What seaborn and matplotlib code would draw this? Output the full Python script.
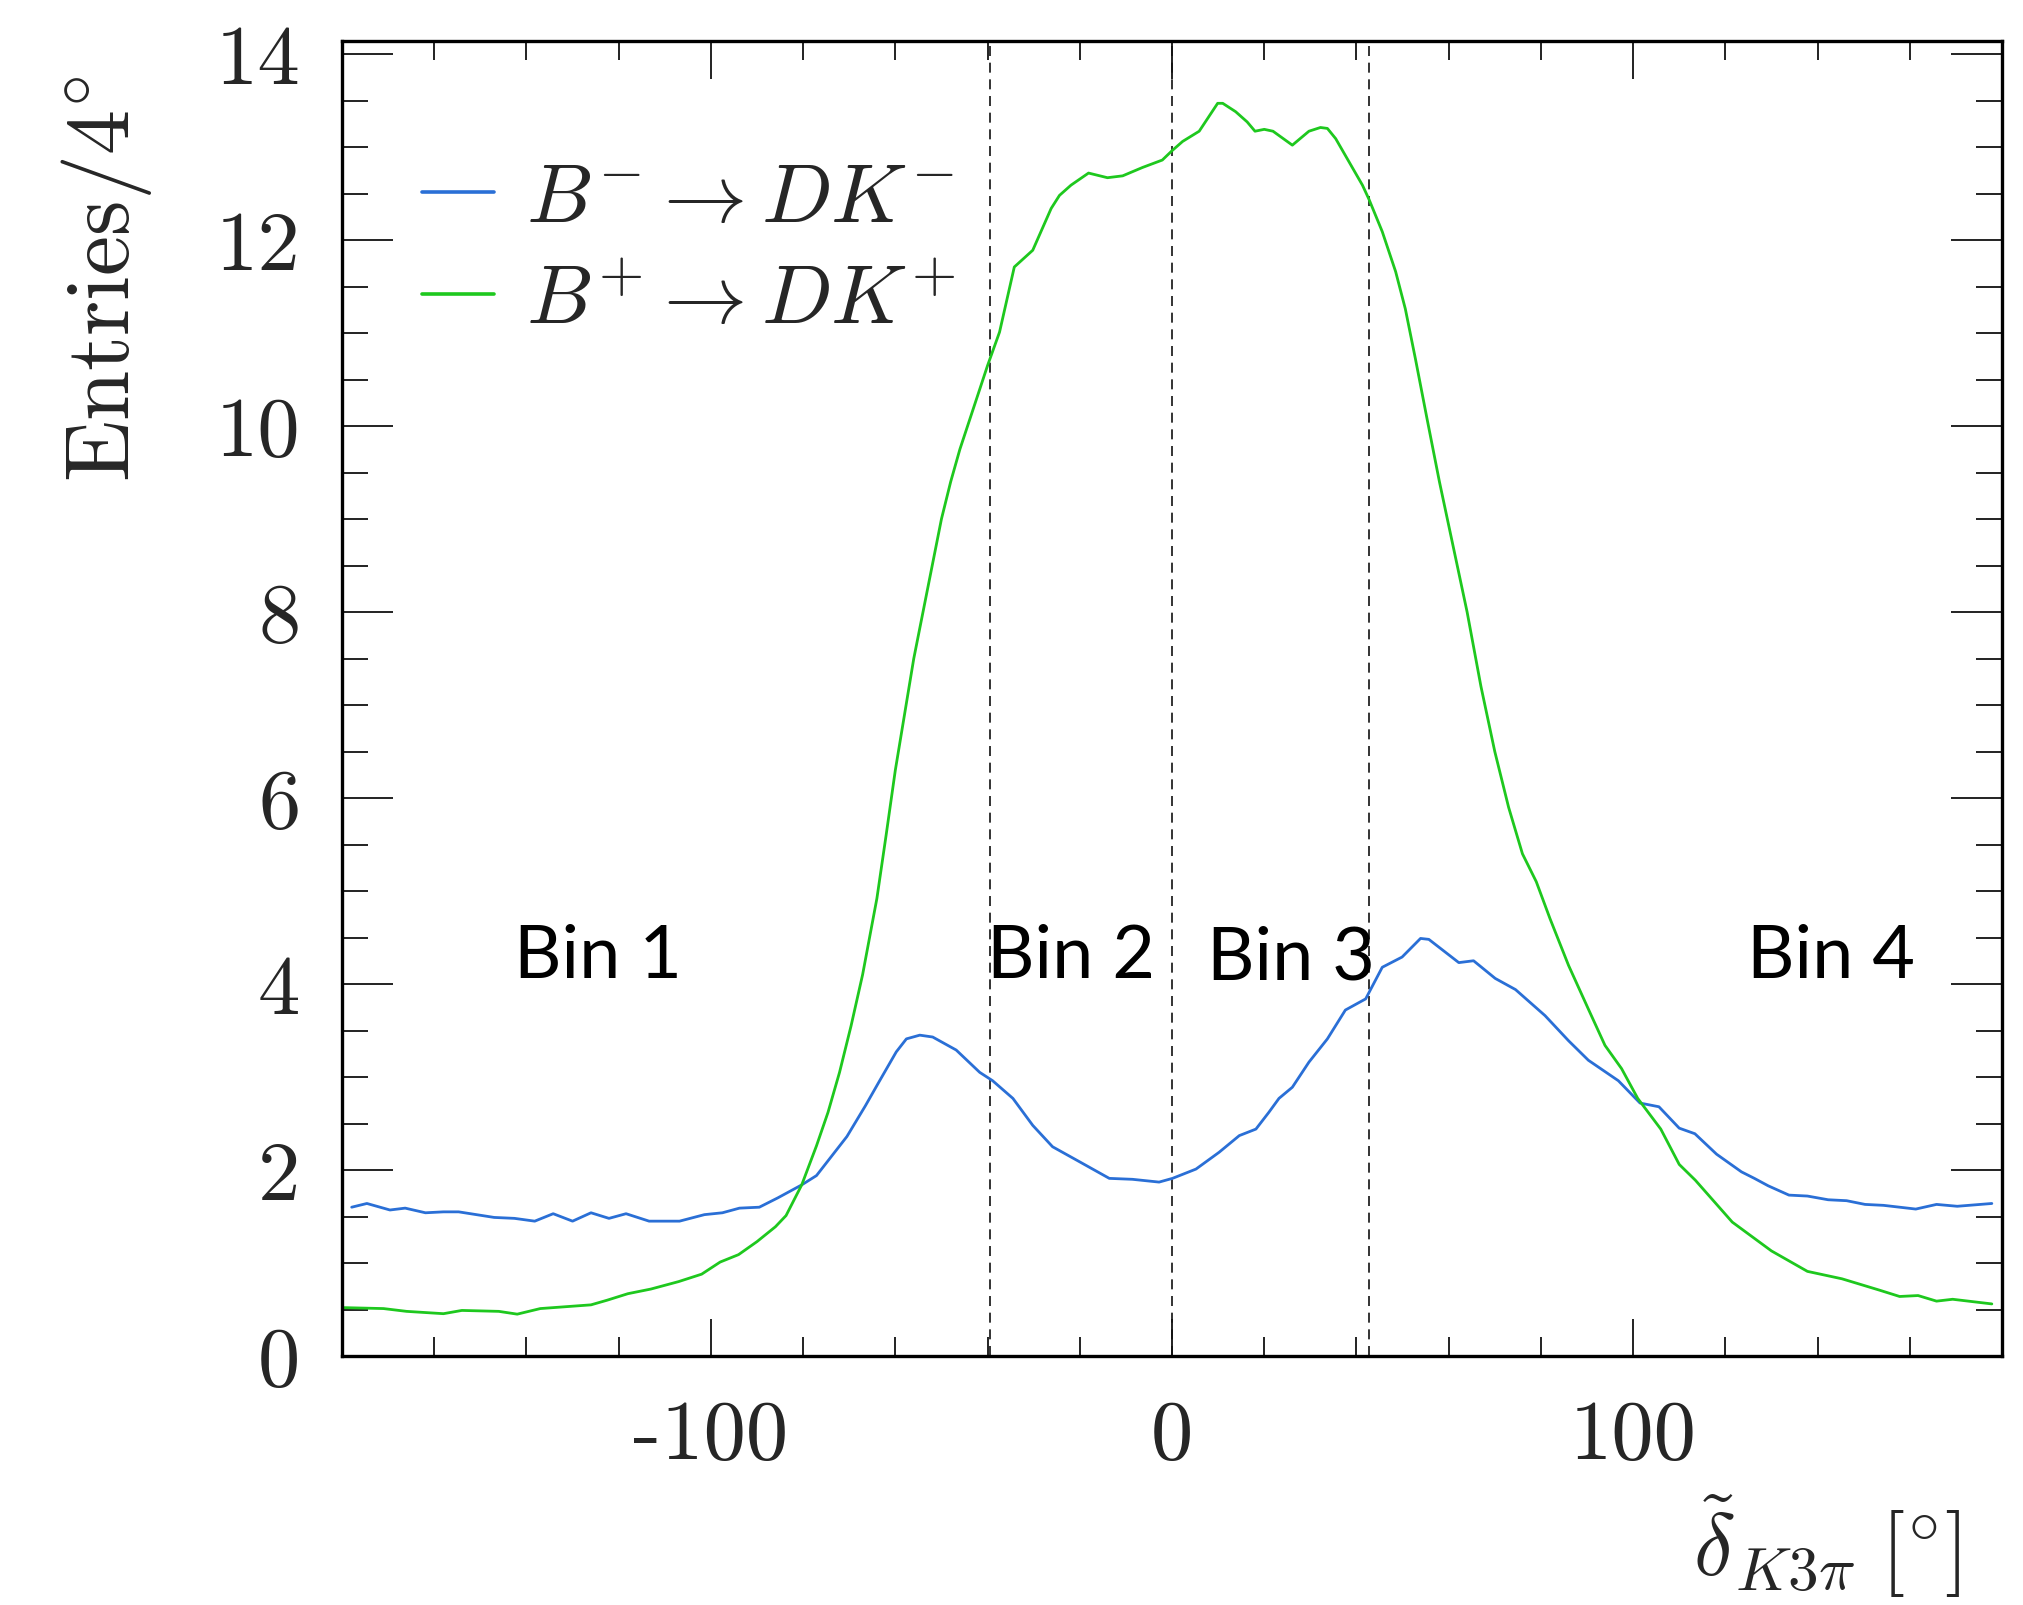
import numpy as np
import pandas as pd
import matplotlib
matplotlib.use("Agg")
import matplotlib.pyplot as plt
import seaborn as sns
from matplotlib.ticker import MultipleLocator, FixedLocator

# ---------------- data ----------------
green_x = [-179.5, -171, -166, -158, -154, -146, -142, -137, -126, -122.5, -118, -113,
           -107, -102, -98, -94, -90, -86, -83.7, -80.3, -77.1, -74.6, -72.1, -69.6,
           -67.1, -64, -62, -60, -58, -56, -54, -52, -50, -48, -46, -44, -42, -40,
           -37.4, -34.2, -30.2, -26.2, -24.4, -21.9, -18.1, -14.0, -10.7, -6.4, -2.1,
           0, 2.3, 5.9, 9.9, 11.0, 13.8, 16.3, 18.0, 20.0, 21.9, 26.1, 29.7, 32.2,
           33.7, 35.5, 38.4, 41.3, 42.7, 45.6, 48.5, 50.6, 52.8, 55.3, 58, 61, 64,
           67, 70, 73, 76, 79, 82, 86, 90.3, 93.9, 97.5, 101, 106, 110, 113.5, 121.5,
           130, 137.8, 145.3, 153.3, 157.8, 161.8, 165.8, 169.3, 177.8]
green_y = [0.52, 0.51, 0.48, 0.455, 0.49, 0.48, 0.45, 0.51, 0.55, 0.60, 0.67, 0.72,
           0.80, 0.88, 1.01, 1.09, 1.23, 1.39, 1.51, 1.84, 2.26, 2.62, 3.05, 3.55,
           4.10, 4.92, 5.6, 6.3, 6.9, 7.5, 8.0, 8.5, 9.0, 9.4, 9.75, 10.05, 10.35, 10.65,
           11.01, 11.71, 11.89, 12.34, 12.48, 12.59, 12.72, 12.67, 12.69, 12.78, 12.86,
           12.96, 13.06, 13.17, 13.47, 13.47, 13.38, 13.27, 13.17, 13.19, 13.17, 13.02,
           13.17, 13.21, 13.20, 13.09, 12.84, 12.59, 12.44, 12.09, 11.66, 11.26, 10.72,
           10.08, 9.4, 8.7, 8.0, 7.2, 6.5, 5.9, 5.4, 5.1, 4.7, 4.2, 3.73, 3.34, 3.09,
           2.77, 2.44, 2.06, 1.89, 1.44, 1.13, 0.91, 0.83, 0.71, 0.64, 0.65, 0.59,
           0.61, 0.56]

blue_x = [-177.9, -174.6, -169.6, -166.3, -161.9, -158.0, -154.7, -147.0, -142.6,
          -138.2, -134.2, -130.0, -126.0, -122.1, -118.4, -113.4, -106.8, -101.4,
          -97.5, -93.8, -89.5, -85.5, -80.3, -77.1, -70.5, -66.5, -63.4, -59.8, -57.6,
          -54.7, -51.9, -46.8, -41.7, -38.9, -34.5, -30.2, -25.9, -20.1, -13.6, -8.6,
          -2.8, 0.1, 5.2, 10.2, 14.6, 18.2, 21.0, 23.2, 26.1, 29.7, 33.7, 37.6, 42.0,
          45.6, 49.9, 53.9, 55.7, 62.2, 65.4, 70.1, 74.5, 80.9, 86.0, 90.3, 96.8,
          101.5, 105.6, 110.0, 113.4, 118.1, 123.5, 126.3, 129.3, 133.8, 137.8, 142.3,
          146.3, 150.3, 154.3, 161.3, 165.8, 170.3, 177.8]
blue_y = [1.60, 1.64, 1.57, 1.59, 1.54, 1.55, 1.55, 1.49, 1.48, 1.45, 1.53, 1.45,
          1.54, 1.48, 1.53, 1.45, 1.45, 1.52, 1.54, 1.59, 1.60, 1.70, 1.84, 1.94,
          2.36, 2.69, 2.96, 3.27, 3.41, 3.45, 3.43, 3.29, 3.05, 2.96, 2.77, 2.48,
          2.25, 2.09, 1.91, 1.90, 1.87, 1.91, 2.01, 2.19, 2.37, 2.44, 2.62, 2.77,
          2.89, 3.16, 3.41, 3.72, 3.84, 4.18, 4.29, 4.49, 4.48, 4.23, 4.25, 4.06,
          3.94, 3.66, 3.39, 3.18, 2.96, 2.72, 2.68, 2.45, 2.39, 2.17, 1.98, 1.91,
          1.83, 1.73, 1.72, 1.68, 1.67, 1.63, 1.62, 1.58, 1.63, 1.61, 1.64]

series_labels = [r'$B^{-} \rightarrow DK^{-}$', r'$B^{+} \rightarrow DK^{+}$']
bin_edges = [-39.4, 0.0, 42.7]
bin_labels = ['Bin 1', 'Bin 2', 'Bin 3', 'Bin 4']
bin_label_x = [-142.6, -40.2, 7.5, 124.7]
bin_label_y = [4.07, 4.07, 4.06, 4.08]
xtick_vals = [-100, 0, 100]
xtick_labels = ['-100', '0', '100']
ytick_vals = [0, 2, 4, 6, 8, 10, 12, 14]
ytick_labels = ['0', '2', '4', '6', '8', '10', '12', '14']

# ---------------- style ----------------
sns.set_style('ticks')
plt.rcParams['mathtext.fontset'] = 'cm'
plt.rcParams['font.family'] = ['cmr10', 'DejaVu Serif']
plt.rcParams['axes.unicode_minus'] = False
plt.rcParams['axes.formatter.use_mathtext'] = False

df = pd.concat([
    pd.DataFrame({'x': blue_x, 'y': blue_y, 'mode': series_labels[0]}),
    pd.DataFrame({'x': green_x, 'y': green_y, 'mode': series_labels[1]}),
], ignore_index=True)

fig = plt.figure(figsize=(20.23, 16.06), dpi=100)
ax = fig.add_axes([342 / 2023, 249 / 1606, 1660 / 2023, 1315 / 1606])

palette = {series_labels[0]: '#2a6fd6', series_labels[1]: '#1ec81e'}
sns.lineplot(data=df, x='x', y='y', hue='mode', palette=palette, estimator=None,
             sort=False, linewidth=2.0, ax=ax, legend=True)

for xe in bin_edges:
    ax.axvline(xe, color='#111111', linewidth=1.2, linestyle=(0, (6, 4)), zorder=1)

for lab, bx, by in zip(bin_labels, bin_label_x, bin_label_y):
    ax.text(bx, by, lab, fontsize=53, family='Lato', ha='left', va='baseline', color='black')

ax.set_xlim(-180, 180)
ax.set_ylim(0, 14.14)

ax.xaxis.set_major_locator(FixedLocator(xtick_vals))
ax.set_xticklabels(xtick_labels)
ax.xaxis.set_minor_locator(MultipleLocator(20))
ax.yaxis.set_major_locator(FixedLocator(ytick_vals))
ax.set_yticklabels(ytick_labels)
ax.yaxis.set_minor_locator(MultipleLocator(0.5))

ax.tick_params(axis='both', which='both', direction='in', top=True, right=True,
               color='#222222', labelsize=61)
ax.tick_params(axis='x', which='major', length=27, width=1.4, pad=31)
ax.tick_params(axis='x', which='minor', length=13.5, width=1.4)
ax.tick_params(axis='y', which='major', length=37, width=1.4, pad=30)
ax.tick_params(axis='y', which='minor', length=18.5, width=1.4)

for sp in ax.spines.values():
    sp.set_linewidth(2.4)
    sp.set_color('black')

ax.set_xlabel(r'$\tilde{\delta}_{K3\pi}\;[^{\circ}]$', fontsize=63, loc='right')
ax.xaxis.set_label_coords(0.975, -0.103)
ax.set_ylabel(r'$\mathrm{Entries}/4^{\circ}$', fontsize=65, loc='top')
ax.yaxis.set_label_coords(-0.113, 0.975)

leg = ax.legend(loc='upper left', bbox_to_anchor=(0.028, 0.933), frameon=False,
                fontsize=60, handlelength=0.87, handletextpad=0.38, labelspacing=0.34,
                borderaxespad=0.0)
for line in leg.get_lines():
    line.set_linewidth(2.6)

fig.savefig('out.png', dpi=100)
